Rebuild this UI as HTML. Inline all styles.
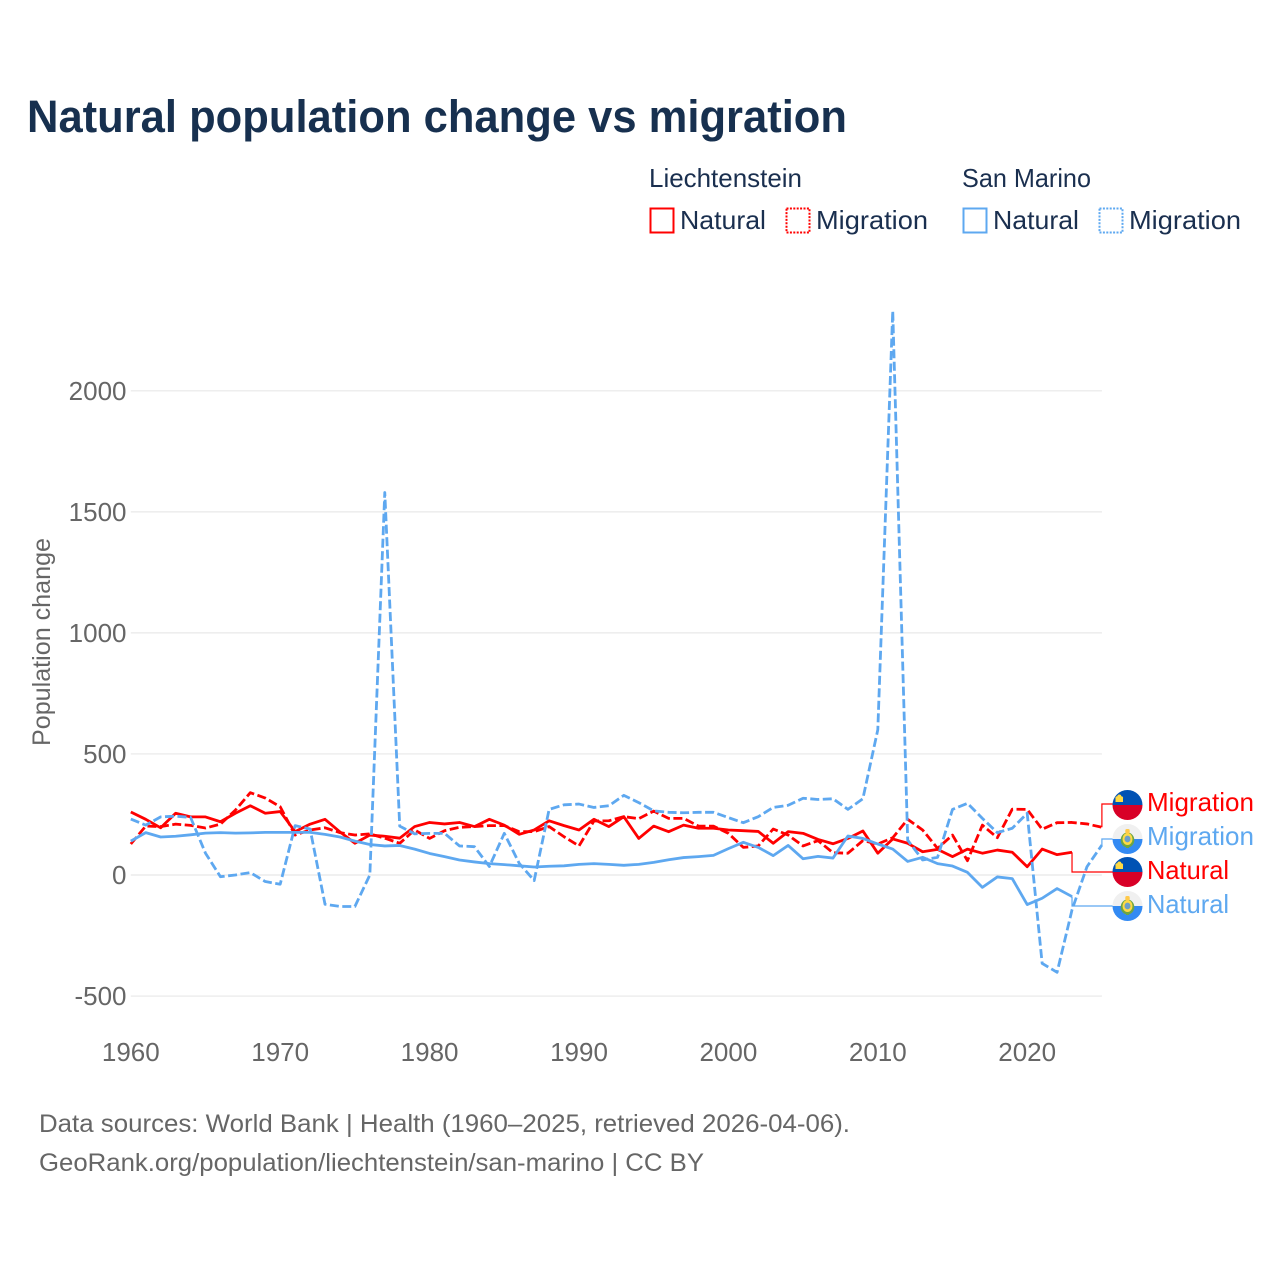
<!DOCTYPE html>
<html lang="en">
<head>
<meta charset="utf-8">
<title>Natural population change vs migration</title>
<style>
html,body{margin:0;padding:0;background:#fff;width:1280px;height:1280px;overflow:hidden}
svg{display:block}
text{font-family:"Liberation Sans",sans-serif}
</style>
</head>
<body>
<svg id="chart" xmlns="http://www.w3.org/2000/svg" width="1280" height="1280" viewBox="0 0 1280 1280">
  <defs>
    <clipPath id="flag-clip"><circle cx="0" cy="0" r="15"/></clipPath>
    <g id="flag-li">
      <g clip-path="url(#flag-clip)">
        <rect x="-15" y="-15" width="30" height="15" fill="#0052b4"/>
        <rect x="-15" y="0" width="30" height="15" fill="#d80027"/>
        <rect x="-12" y="-7" width="7.5" height="4" fill="#ffda44"/>
        <circle cx="-10.3" cy="-7" r="1.8" fill="#ffda44"/>
        <circle cx="-6.2" cy="-7" r="1.8" fill="#ffda44"/>
        <circle cx="-8.2" cy="-8.5" r="2" fill="#ffda44"/>
      </g>
    </g>
    <g id="flag-sm">
      <g clip-path="url(#flag-clip)">
        <rect x="-15" y="-15" width="30" height="15" fill="#f0f0f0"/>
        <rect x="-15" y="0" width="30" height="15" fill="#338af3"/>
        <ellipse cx="0" cy="1" rx="6.8" ry="7.5" fill="#6da544"/>
        <ellipse cx="0" cy="0" rx="5" ry="6" fill="#ffda44"/>
        <ellipse cx="0" cy="0" rx="3" ry="3.4" fill="#6d9fc9"/>
        <rect x="-2.2" y="-10" width="4.4" height="4.5" rx="1.5" fill="#ffc94a"/>
        <rect x="-1.5" y="7" width="3" height="2" fill="#6da544"/>
      </g>
    </g>
  </defs>

  <rect x="0" y="0" width="1280" height="1280" fill="#ffffff"/>

  <text x="27" y="132" font-size="45" font-weight="700" fill="#17304f" textLength="820" lengthAdjust="spacingAndGlyphs">Natural population change vs migration</text>

  <g font-size="26" fill="#1a2f4f">
    <text x="649" y="187" textLength="153" lengthAdjust="spacingAndGlyphs">Liechtenstein</text>
    <text x="962" y="187" textLength="129" lengthAdjust="spacingAndGlyphs">San Marino</text>
    <g>
      <rect x="650.5" y="208.5" width="23" height="24" fill="none" stroke="#ff0000" stroke-width="2"/>
      <text x="680" y="229" textLength="86" lengthAdjust="spacingAndGlyphs">Natural</text>
    </g>
    <g>
      <rect x="786.5" y="208.5" width="23" height="24" fill="none" stroke="#ff0000" stroke-width="2" stroke-dasharray="2 1.4"/>
      <text x="816" y="229" textLength="112" lengthAdjust="spacingAndGlyphs">Migration</text>
    </g>
    <g>
      <rect x="963.5" y="208.5" width="23" height="24" fill="none" stroke="#5ea8f0" stroke-width="2"/>
      <text x="993" y="229" textLength="86" lengthAdjust="spacingAndGlyphs">Natural</text>
    </g>
    <g>
      <rect x="1099.5" y="208.5" width="23" height="24" fill="none" stroke="#5ea8f0" stroke-width="2" stroke-dasharray="2 1.4"/>
      <text x="1129" y="229" textLength="112" lengthAdjust="spacingAndGlyphs">Migration</text>
    </g>
  </g>

  <g id="grid"></g>
  <g id="yticks" font-size="26" fill="#666666" text-anchor="end"></g>
  <g id="xticks" font-size="26" fill="#666666" text-anchor="middle"></g>
  <text transform="translate(50,642) rotate(-90)" text-anchor="middle" font-size="25" fill="#666666" textLength="208" lengthAdjust="spacingAndGlyphs">Population change</text>

  <g id="series"></g>
  <g id="connectors"></g>

  <g>
    <use href="#flag-li" x="1127.5" y="805"/>
    <text x="1147" y="811" font-size="26" fill="#ff0000" textLength="107" lengthAdjust="spacingAndGlyphs">Migration</text>
  </g>
  <g>
    <use href="#flag-sm" x="1127.5" y="839"/>
    <text x="1147" y="845" font-size="26" fill="#5ea8f0" textLength="107" lengthAdjust="spacingAndGlyphs">Migration</text>
  </g>
  <g>
    <use href="#flag-li" x="1127.5" y="872"/>
    <text x="1147" y="879" font-size="26" fill="#ff0000" textLength="82" lengthAdjust="spacingAndGlyphs">Natural</text>
  </g>
  <g>
    <use href="#flag-sm" x="1127.5" y="906"/>
    <text x="1147" y="913" font-size="26" fill="#5ea8f0" textLength="82" lengthAdjust="spacingAndGlyphs">Natural</text>
  </g>

  <g font-size="25" fill="#666666">
    <text x="39" y="1132" textLength="811" lengthAdjust="spacingAndGlyphs">Data sources: World Bank | Health (1960–2025, retrieved 2026-04-06).</text>
    <text x="39" y="1171" textLength="665" lengthAdjust="spacingAndGlyphs">GeoRank.org/population/liechtenstein/san-marino | CC BY</text>
  </g>
</svg>
<script>
const startYear = 1960;
const xTickYears = [1960, 1970, 1980, 1990, 2000, 2010, 2020];
const yTickValues = [-500, 0, 500, 1000, 1500, 2000];
const liechtensteinNatural = [260,230,195,255,240,240,220,255,286,255,262,179,210,230,178,131,165,160,152,200,217,211,217,200,230,206,168,186,224,204,186,230,200,241,151,202,179,206,193,193,186,183,180,131,179,172,147,129,151,182,90,149,131,96,106,76,107,90,103,94,34,107,84,94];
const liechtensteinMigration = [128,202,200,210,205,194,210,268,340,318,282,165,186,195,175,165,170,152,131,186,151,183,197,200,204,204,179,179,200,158,120,223,224,241,233,264,234,234,202,202,172,114,120,190,165,120,142,92,90,142,128,154,230,186,110,165,59,206,154,272,271,189,216,217,211,197];
const sanMarinoNatural = [140,175,157,160,166,173,175,173,174,176,176,176,176,168,157,140,126,120,122,107,89,76,62,54,47,43,38,33,36,38,44,47,44,40,44,52,63,72,76,81,109,135,114,80,122,67,77,70,161,151,128,107,56,73,47,37,11,-51,-8,-15,-122,-96,-56,-89];
const sanMarinoMigration = [231,206,240,243,238,90,-7,0,10,-27,-38,204,190,-121,-130,-130,0,1580,202,170,172,172,120,117,35,172,48,-23,271,290,293,279,286,329,299,265,259,257,259,259,237,216,241,279,288,317,312,315,271,315,600,2330,144,62,73,271,296,234,175,193,255,-365,-402,-144,34,124];

const NS = 'http://www.w3.org/2000/svg';
const RED = '#ff0000';
const BLUE = '#5ea8f0';
function xScale(year) { return 130.8 + (year - 1960) * 14.94; }
function yScale(v) { return 875 - v * 0.2421; }
function make(tag, parent) {
  const el = document.createElementNS(NS, tag);
  document.getElementById(parent).appendChild(el);
  return el;
}

yTickValues.forEach(function (v) {
  const line = make('line', 'grid');
  
  
  line.setAttribute('x1', xScale(1960));
  line.setAttribute('x2', xScale(2025));
  line.setAttribute('y1', yScale(v));
  line.setAttribute('y2', yScale(v));
  line.setAttribute('stroke', '#e8e8e8');
  line.setAttribute('stroke-width', '1.2');
  const t = make('text', 'yticks');
  
  
  t.setAttribute('x', 126.5);
  t.setAttribute('y', yScale(v) + 9);
  t.textContent = String(v);
});

xTickYears.forEach(function (yr) {
  const t = make('text', 'xticks');
  
  
  t.setAttribute('x', xScale(yr));
  t.setAttribute('y', 1061);
  t.textContent = String(yr);
});

function drawSeries(values, color, dashed, name) {
  const p = make('polyline', 'series');
  
  
  p.setAttribute('points', values.map(function (v, i) {
    return xScale(startYear + i).toFixed(2) + ',' + yScale(v).toFixed(2);
  }).join(' '));
  p.setAttribute('fill', 'none');
  p.setAttribute('stroke', color);
  p.setAttribute('stroke-width', '2.8');
  p.setAttribute('stroke-linejoin', 'round');
  if (dashed) p.setAttribute('stroke-dasharray', '9 3.5');
}
drawSeries(liechtensteinNatural, RED, false, 'line-liechtenstein-natural');
drawSeries(liechtensteinMigration, RED, true, 'line-liechtenstein-migration');
drawSeries(sanMarinoNatural, BLUE, false, 'line-san-marino-natural');
drawSeries(sanMarinoMigration, BLUE, true, 'line-san-marino-migration');

function drawConnector(values, color, labelY, name) {
  const i = values.length - 1;
  const x = xScale(startYear + i);
  const y = yScale(values[i]);
  const p = make('polyline', 'connectors');
  
  
  p.setAttribute('points', x + ',' + y + ' ' + x + ',' + labelY + ' 1113,' + labelY);
  p.setAttribute('fill', 'none');
  p.setAttribute('stroke', color);
  p.setAttribute('stroke-width', '1.2');
}
drawConnector(liechtensteinMigration, RED, 804, 'connector-liechtenstein-migration');
drawConnector(sanMarinoMigration, BLUE, 839, 'connector-san-marino-migration');
drawConnector(liechtensteinNatural, RED, 872, 'connector-liechtenstein-natural');
drawConnector(sanMarinoNatural, BLUE, 906, 'connector-san-marino-natural');
</script>
</body>
</html>
